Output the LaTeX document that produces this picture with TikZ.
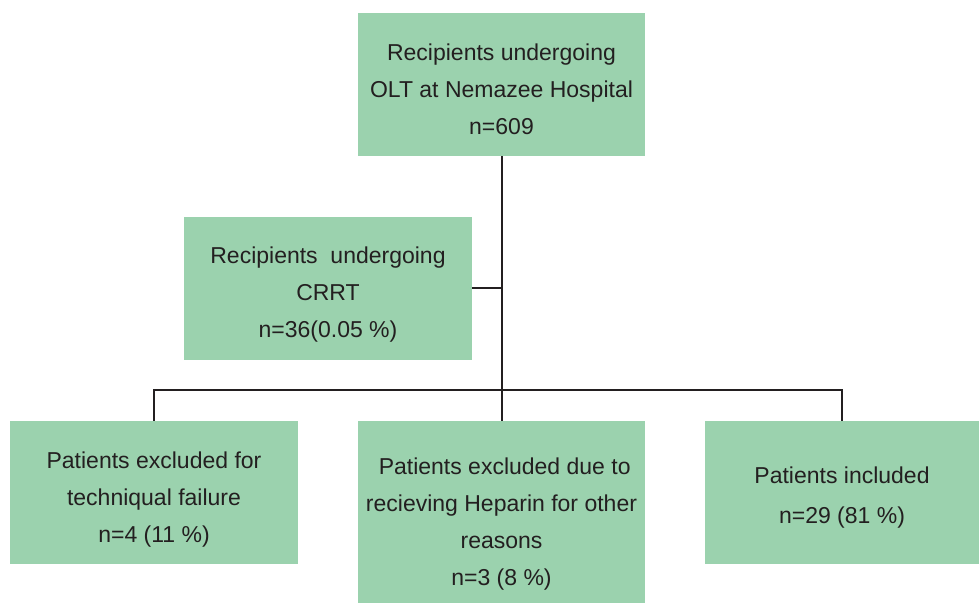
\documentclass[tikz,border=0pt]{standalone}
\usepackage{fontspec}
\setmainfont{Liberation Sans}
\usetikzlibrary{calc}
\definecolor{boxgreen}{RGB}{155,210,174}
\definecolor{inkgray}{RGB}{35,31,32}
\tikzset{
  flowbox/.style={fill=boxgreen, inner sep=0pt},
  boxtext/.style={align=center, text=inkgray, inner sep=0pt,
    font=\fontsize{23}{37}\selectfont},
  link/.style={draw=inkgray, line width=2pt}
}
\begin{document}
\begin{tikzpicture}[x=1pt, y=1pt]
  \useasboundingbox (0,0) rectangle (979,605);
  % boxes
  \node[flowbox, minimum width=287pt, minimum height=143pt,
    label={[boxtext, yshift=-5pt]center:{Recipients undergoing\\OLT at Nemazee Hospital\\n=609}}]
    (olt) at (501.5,520.5) {};
  \node[flowbox, minimum width=288pt, minimum height=143pt,
    label={[boxtext, yshift=-6pt]center:{Recipients\ \ undergoing\\CRRT\\n=36(0.05 \%)}}]
    (crrt) at (328,316.5) {};
  \node[flowbox, minimum width=288pt, minimum height=143pt,
    label={[boxtext, yshift=-7pt]center:{Patients excluded for\\techniqual failure\\n=4 (11 \%)}}]
    (fail) at (154,112.5) {};
  \node[flowbox, minimum width=287pt, minimum height=182pt,
    label={[boxtext, yshift=-12pt]center:{\ Patients excluded due to\\recieving Heparin for other\\reasons\\n=3 (8 \%)}}]
    (hep) at (501.5,93) {};
  \node[flowbox, minimum width=274pt, minimum height=143pt,
    label={[boxtext, yshift=-5pt, font=\fontsize{23}{40}\selectfont]center:{Patients included\\n=29 (81 \%)}}]
    (incl) at (842,112.5) {};
  % connectors
  \coordinate (split) at (501.5,215);
  \draw[link] (olt.south) -- (split);
  \draw[link] (crrt.east) -- (crrt.east -| split);
  \draw[link] (fail.north) |- (split);
  \draw[link] (incl.north) |- (split);
  \draw[link] (hep.north) -- (split);
\end{tikzpicture}
\end{document}
